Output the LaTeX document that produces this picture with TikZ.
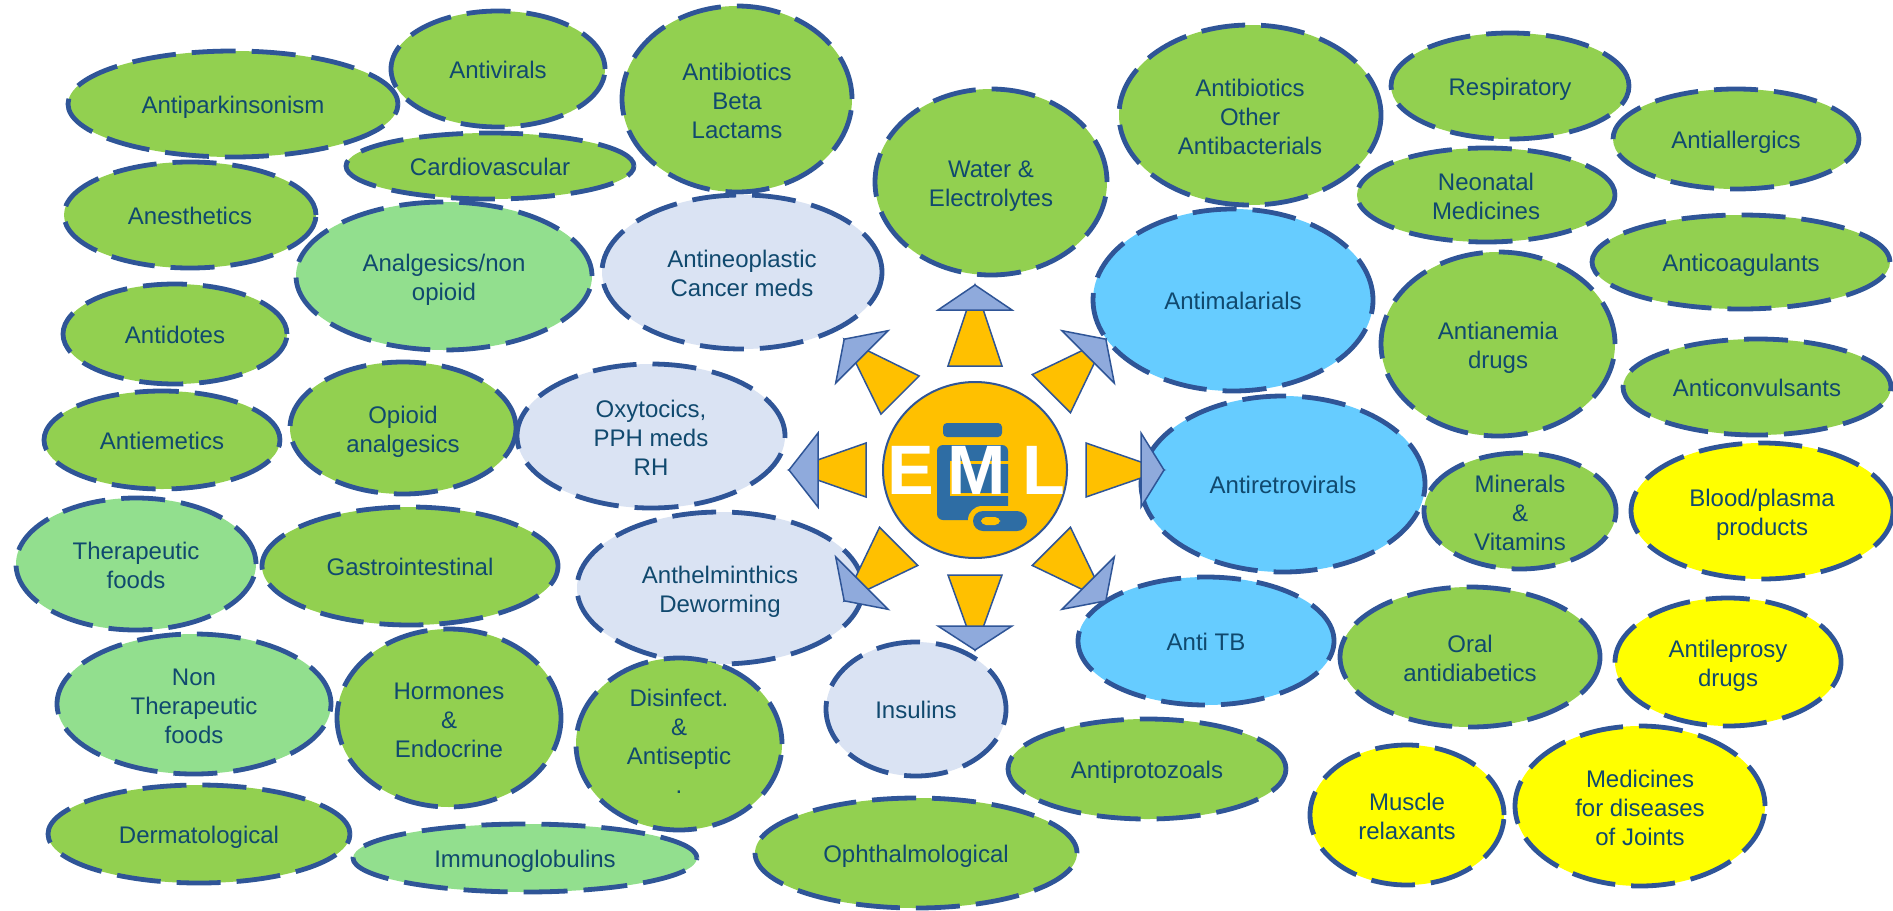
\documentclass[tikz,border=0pt]{standalone}
\usepackage{fontspec}
\setmainfont{Liberation Sans}
\usetikzlibrary{shapes.geometric,calc}
\definecolor{txt}{HTML}{10496E}
\definecolor{bord}{HTML}{2F5597}
\definecolor{grn}{HTML}{92D050}
\definecolor{lgrn}{HTML}{92DF8E}
\definecolor{lblu}{HTML}{DAE3F3}
\definecolor{sky}{HTML}{66CCFF}
\definecolor{ylw}{HTML}{FFFF00}
\definecolor{gold}{HTML}{FFC000}
\definecolor{ahead}{HTML}{8FAADC}
\definecolor{iconblue}{HTML}{2E6DA4}
\newcommand\lnstrut{\rule{0pt}{12.7pt}}
\newcommand\ellnode[7]{\node[catbox, fill=#2, minimum width=#5pt, minimum height=#6pt] (#1) at (#3,#4) {#7};}
\newcommand\ellnodem[7]{\node[catbox, fill=#2, minimum width=#5pt, minimum height=#6pt] (#1) at (#3,#4) {\lnstrut#7};}
\newcommand\stararrow[4]{%
  \filldraw[fill=gold, draw=bord, line width=0.75pt, line join=miter]
    ($(ctr)+(#1:#2)+(#1+90:27)$) -- ($(ctr)+(#1:#4)$) -- ($(ctr)+(#1:#2)+(#1-90:27)$) -- cycle;
  \filldraw[fill=ahead, draw=bord, line width=0.75pt, line join=miter]
    ($(ctr)+(#1:#3)+(#1+90:37)$) -- ($(ctr)+(#1:#4)$) -- ($(ctr)+(#1:#3)+(#1-90:37)$) -- cycle;}
\begin{document}
\begin{tikzpicture}[x=0.5pt,y=-0.5pt,
  catbox/.style={ellipse, draw=bord, line width=2.4pt, dash pattern=on 22pt off 8pt,
    inner xsep=0pt, inner ysep=-5pt, align=center, text=txt, font=\fontsize{12pt}{14.5pt}\selectfont,
    execute at begin node={\rule{0pt}{11.9pt}}, execute at end node={\rule[-2.5pt]{0pt}{0pt}}}]
\useasboundingbox (0,0) rectangle (1893,910);
\fill[white] (0,0) rectangle (1893,910);
% categories
\ellnode{antipark}{grn}{233}{104}{165}{53}{Antiparkinsonism}
\ellnode{antivir}{grn}{498}{69}{107}{58}{Antivirals}
\ellnodem{betalact}{grn}{737}{99}{115}{93}{Antibiotics\\Beta\\Lactams}
\ellnode{cardio}{grn}{490}{166}{144}{33}{Cardiovascular}
\ellnode{anesth}{grn}{190}{215}{126}{53}{Anesthetics}
\ellnodem{analg}{lgrn}{444}{276}{148}{74}{Analgesics/non\\opioid}
\ellnodem{antineo}{lblu}{742}{272}{140}{77}{Antineoplastic\\Cancer meds}
\ellnodem{water}{grn}{991}{182}{116}{93}{Water \&\\Electrolytes}
\ellnodem{abother}{grn}{1250}{115}{131}{90}{Antibiotics\\Other\\Antibacterials}
\ellnode{resp}{grn}{1510}{86}{119}{53}{Respiratory}
\ellnode{allerg}{grn}{1736}{139}{123}{50}{Antiallergics}
\ellnodem{neonat}{grn}{1486}{195}{129}{47}{Neonatal\\Medicines}
\ellnode{coag}{grn}{1741}{262}{149}{47}{Anticoagulants}
\ellnode{malar}{sky}{1233}{300}{140}{91}{Antimalarials}
\ellnodem{anemia}{grn}{1498}{344}{117}{92}{Antianemia\\drugs}
\ellnode{convuls}{grn}{1757}{387}{134}{48}{Anticonvulsants}
\ellnode{antidote}{grn}{175}{334}{112}{50}{Antidotes}
\ellnode{emetic}{grn}{162}{440}{118}{49}{Antiemetics}
\ellnodem{opioid}{grn}{403}{428}{113}{66}{Opioid\\analgesics}
\ellnodem{oxy}{lblu}{651}{436}{134}{72}{Oxytocics,\\PPH meds\\RH}
\ellnode{retro}{sky}{1283}{484}{142}{88}{Antiretrovirals}
\ellnodem{miner}{grn}{1520}{511}{96}{58}{Minerals\\\&\\Vitamins}
\ellnodem{blood}{ylw}{1762}{511}{131}{68}{Blood/plasma\\products}
\ellnodem{thera}{lgrn}{136}{564}{120}{66}{Therapeutic\\foods}
\ellnode{gastro}{grn}{410}{566}{148}{59}{Gastrointestinal}
\ellnodem{anthel}{lblu}{720}{588}{143}{76}{Anthelminthics\\Deworming}
\ellnode{antitb}{sky}{1206}{641}{128}{64}{Anti TB}
\ellnodem{oral}{grn}{1470}{657}{130}{70}{Oral\\antidiabetics}
\ellnodem{lepro}{ylw}{1728}{662}{113}{64}{Antileprosy\\drugs}
\ellnodem{nonthera}{lgrn}{194}{704}{137}{70}{Non\\Therapeutic\\foods}
\ellnodem{hormone}{grn}{449}{718}{112}{89}{Hormones\\\&\\Endocrine}
\ellnode{disinf}{grn}{679}{744}{103}{86}{Disinfect.\\\&\\Antiseptic\\.}
\ellnode{insulin}{lblu}{916}{709}{90}{67}{Insulins}
\ellnode{protozo}{grn}{1147}{769}{139}{50}{Antiprotozoals}
\ellnodem{muscle}{ylw}{1407}{815}{97}{70}{Muscle\\relaxants}
\ellnodem{joints}{ylw}{1640}{806}{125}{80}{Medicines\\for diseases\\of Joints}
\ellnode{derma}{grn}{199}{834}{151}{49}{Dermatological}
\ellnode{immuno}{lgrn}{525}{858}{172}{34}{Immunoglobulins}
\ellnode{ophth}{grn}{916}{853}{161}{55}{Ophthalmological}
% star arrows
\coordinate (ctr) at (975,470);
\stararrow{270}{104}{160}{185}
\stararrow{0}{111}{166}{189}
\stararrow{180}{109}{157}{186}
\stararrow{90}{105}{156}{180}
\stararrow{315}{108}{160}{185}
\stararrow{225}{106}{160}{185}
\stararrow{135}{108}{160}{185}
\stararrow{45}{108}{160}{185}
% central circle
\node[ellipse, draw=bord, fill=gold, line width=1pt, minimum width=92pt, minimum height=88pt, inner sep=0pt] (eml) at (ctr) {};
% bottle icon
\fill[iconblue, rounded corners=2pt] (943,423) rectangle (1002,437);
\fill[iconblue, rounded corners=3pt] (937,445) rectangle (1008,520);
\draw[gold, line width=1.5pt] (951,462) rectangle (1014,494);
\fill[gold, rounded corners=7pt] (968,506) rectangle (1032,536);
\fill[iconblue, rounded corners=5pt] (973,511) rectangle (1027,531);
\fill[gold, rounded corners=2.5pt] (981,517) rectangle (1000,525);
% EML letters
\node[font=\fontsize{35pt}{35pt}\selectfont\bfseries, text=white, anchor=base, inner sep=0pt] (lE) at (911,494) {E};
\node[font=\fontsize{35pt}{35pt}\selectfont\bfseries, text=white, anchor=base, inner sep=0pt] (lM) at (977,494) {M};
\node[font=\fontsize{35pt}{35pt}\selectfont\bfseries, text=white, anchor=base, inner sep=0pt] (lL) at (1044,494) {L};
\end{tikzpicture}
\end{document}
